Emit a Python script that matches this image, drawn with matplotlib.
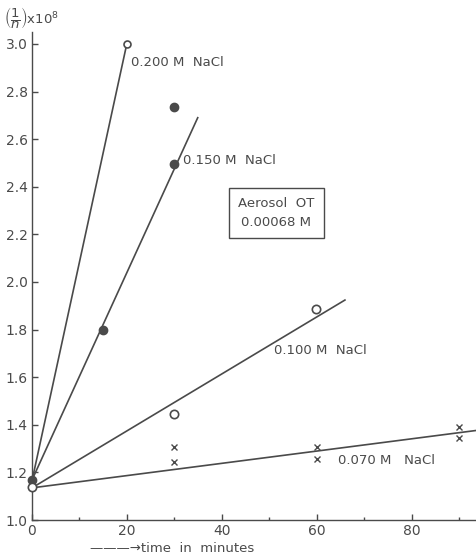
import matplotlib
matplotlib.use("Agg")
import matplotlib.pyplot as plt
from matplotlib.ticker import MultipleLocator

# ---- data ----
# 0.200 M NaCl (open circles)
t_200 = [20]
y_200 = [3.00]
fit_t_200 = [0, 19.8]
fit_y_200 = [1.165, 2.985]

# 0.150 M NaCl (filled circles)
t_150 = [0, 15, 30, 30]
y_150 = [1.168, 1.80, 2.495, 2.735]
fit_t_150 = [0, 34.9]
fit_y_150 = [1.168, 2.69]

# 0.100 M NaCl (open circles)
t_100 = [0, 30, 59.8]
y_100 = [1.138, 1.445, 1.887]
fit_t_100 = [0, 65.9]
fit_y_100 = [1.135, 1.924]

# 0.070 M NaCl (crosses)
t_070 = [30, 30, 60, 60, 90, 90]
y_070 = [1.305, 1.245, 1.308, 1.258, 1.39, 1.345]
fit_t_070 = [0, 93.5]
fit_y_070 = [1.135, 1.376]

x_ticks = [0, 20, 40, 60, 80]
x_ticklabels = ["0", "20", "40", "60", "80"]
y_ticks = [1.0, 1.2, 1.4, 1.6, 1.8, 2.0, 2.2, 2.4, 2.6, 2.8, 3.0]
y_ticklabels = ["1.0", "1.2", "1.4", "1.6", "1.8", "2.0", "2.2", "2.4", "2.6", "2.8", "3.0"]

C = "#4a4a4a"

fig = plt.figure(figsize=(4.76, 5.57), dpi=100)
ax = fig.add_axes([32/476, 37/557, 1 - 32/476, (520 - 32)/557])
ax.set_xlim(0, 93.5)
ax.set_ylim(1.0, 3.05)

for s in ["top", "right"]:
    ax.spines[s].set_visible(False)
for s in ["left", "bottom"]:
    ax.spines[s].set_color(C)
    ax.spines[s].set_linewidth(1.0)

lw = 1.2
ax.plot(fit_t_200, fit_y_200, color=C, lw=lw)
ax.plot(fit_t_150, fit_y_150, color=C, lw=lw)
ax.plot(fit_t_100, fit_y_100, color=C, lw=lw)
ax.plot(fit_t_070, fit_y_070, color=C, lw=lw)

ax.plot(t_200, y_200, 'o', ms=5, mfc='white', mec=C, mew=1.2, clip_on=False)
ax.plot(t_150, y_150, 'o', ms=6, mfc=C, mec=C, clip_on=False, zorder=4)
ax.plot(t_100, y_100, 'o', ms=6, mfc='white', mec=C, mew=1.2, clip_on=False, zorder=5)
ax.plot(t_070, y_070, 'x', ms=4.5, color=C, mew=1.0)

ax.set_xticks(x_ticks)
ax.set_xticklabels(x_ticklabels)
ax.xaxis.set_minor_locator(MultipleLocator(10))
ax.set_yticks(y_ticks)
ax.set_yticklabels(y_ticklabels)
ax.tick_params(axis='both', which='major', direction='in', length=4, width=1, color=C,
               labelcolor=C, labelsize=10)
ax.tick_params(axis='x', which='minor', direction='in', length=2.5, width=1, color=C)
ax.tick_params(axis='x', pad=3)
ax.tick_params(axis='y', pad=3)

tk = dict(color=C, fontsize=9.5)
ax.text(20.8, 2.92, "0.200 M  NaCl", ha='left', va='center', **tk)
ax.text(31.8, 2.51, "0.150 M  NaCl", ha='left', va='center', **tk)
ax.text(51.0, 1.71, "0.100 M  NaCl", ha='left', va='center', **tk)
ax.text(64.5, 1.252, "0.070 M   NaCl", ha='left', va='center', **tk)
ax.text(51.4, 2.29, "Aerosol  OT\n0.00068 M", ha='center', va='center', linespacing=1.6,
        bbox=dict(boxstyle='square,pad=0.7', fc='white', ec=C, lw=1.0), **tk)

fig.text(4/476, 1 - 18/557, r"$\left(\dfrac{1}{n}\right)$x10$^{8}$", color=C, fontsize=9.5,
         ha='left', va='center')
fig.text(90/476, 1 - 549/557, "———→time  in  minutes", color=C, fontsize=9.5,
         ha='left', va='center')

fig.savefig("out.png", dpi=100)
